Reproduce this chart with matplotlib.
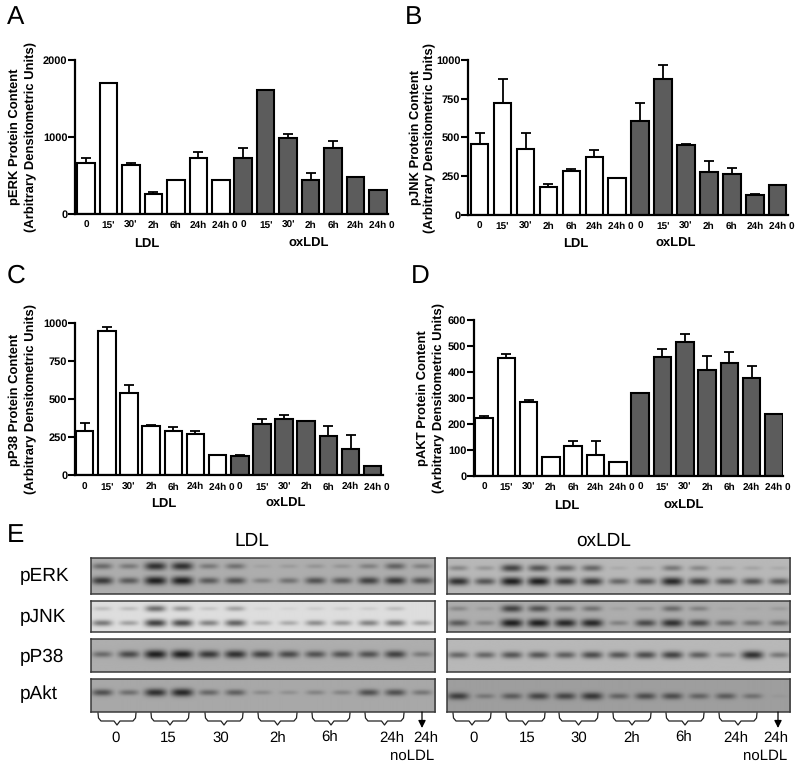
import matplotlib
matplotlib.use('Agg')
import matplotlib.pyplot as plt
import numpy as np

plt.rcParams['font.family'] = ['Liberation Sans', 'DejaVu Sans']
plt.rcParams['text.hinting'] = 'no_hinting'
plt.rcParams['text.hinting_factor'] = 1

W, H = 800, 768

time_labels = ['0', "15'", "30'", '2h', '6h', '24h', '24h 0']
bar_labels = time_labels + time_labels

# values of the bars and the upper error (LDL 7 bars, then oxLDL 7 bars)
perk_vals = [660, 1690, 640, 255, 440, 720, 440, 720, 1600, 980, 440, 860, 480, 310]
perk_errs = [65, 0, 15, 30, 0, 80, 0, 140, 5, 55, 85, 80, 5, 0]
pjnk_vals = [455, 720, 425, 178, 280, 375, 240, 605, 880, 450, 275, 262, 130, 195]
pjnk_errs = [75, 160, 105, 22, 15, 45, 0, 120, 90, 10, 70, 43, 2, 0]
pp38_vals = [288, 945, 540, 325, 290, 270, 135, 125, 335, 368, 358, 255, 170, 62]
pp38_errs = [54, 30, 55, 5, 25, 22, 0, 7, 37, 24, 0, 67, 95, 0]
pakt_vals = [222, 452, 285, 72, 115, 80, 52, 318, 458, 516, 408, 436, 376, 237]
pakt_errs = [8, 18, 5, 0, 18, 53, 0, 0, 32, 30, 52, 42, 48, 0]

# blot band darkness per lane (13 lanes)
left_erk_up = [.55, .45, .9, .9, .45, .5, .15, .2, .25, .25, .4, .6, .4]
left_erk_low = [.85, .65, 1, 1, .65, .7, .4, .5, .7, .65, .8, .85, .7]
left_jnk_up = [.25, .25, .65, .45, .2, .4, .1, .1, .15, .15, .15, .25, 0]
left_jnk_low = [.6, .4, .85, .8, .55, .7, .35, .35, .5, .45, .55, .6, .4]
left_p38 = [.55, .75, 1, 1, .85, .9, .8, .75, .7, .7, .7, .8, .45]
left_akt = [.7, .5, .9, .95, .55, .6, .3, .25, .35, .35, .7, .7, .45]
right_erk_up = [.4, .3, .8, .7, .6, .6, .15, .2, .5, .4, .2, .2, .15]
right_erk_low = [.9, .7, 1, 1, .85, .85, .6, .7, .95, .8, .7, .7, .65]
right_jnk_up = [.35, .2, .8, .7, .5, .5, .15, .25, .55, .4, .1, .1, .2]
right_jnk_low = [.65, .4, 1, 1, .95, .95, .4, .75, .9, .75, .55, .5, .5]
right_p38 = [.6, .6, .7, .7, .65, .75, .7, .75, .8, .65, .45, .9, .5]
right_akt = [.8, .4, .6, .75, .75, .85, .55, .7, .7, .55, .6, .45, .1]

bracket_labels = ['0', '15', '30', '2h', '6h', '24h']

fig = plt.figure(figsize=(W / 100, H / 100), dpi=100)


def px_text(x, y, s, **kw):
    kw.setdefault('ha', 'center')
    kw.setdefault('va', 'center')
    return fig.text(x / W, 1 - y / H, s, **kw)


def bar_panel(axis_x, end_x, y0, ytop, first, last, vals, errs, ymax, yticks,
              title, lab1_x, lab2_x, ldl_x, ox_x, ldl_y, letter, letter_x, letter_y):
    ax = fig.add_axes([axis_x / W, 1 - y0 / H, (end_x - axis_x) / W, (y0 - ytop) / H])
    step = (last - first) / 13
    ax.set_xlim((axis_x - first) / step, (end_x - first) / step)
    ax.set_ylim(0, ymax)
    x = np.arange(14)
    colors = ['white'] * 7 + ['#5c5c5c'] * 7
    ax.bar(x, vals, width=17.5 / step, color=colors, edgecolor='black', linewidth=1.5,
           yerr=[np.zeros(14), errs], capsize=3.6,
           error_kw={'elinewidth': 1.3, 'capthick': 1.3, 'ecolor': 'black'})
    for s in ['top', 'right']:
        ax.spines[s].set_visible(False)
    for s in ['left', 'bottom']:
        ax.spines[s].set_linewidth(1.6)
    ax.set_yticks(yticks)
    ax.tick_params(axis='y', length=5, width=1.5, pad=0.5, labelsize=7.8)
    for t in ax.get_yticklabels():
        t.set_fontweight('bold')
    # the last label of each group runs on with the 0 of the next
    off = 4 / step
    ax.set_xticks(x + np.array([0] * 6 + [off] + [0] * 6 + [off]))
    ax.set_xticklabels(bar_labels)
    ax.tick_params(axis='x', length=0, pad=5, labelsize=7.5)
    for t in ax.get_xticklabels():
        t.set_fontweight('bold')
    cy = (ytop + y0) / 2 + 0.5
    px_text(lab1_x, cy, title, rotation=90, fontsize=9.2, fontweight='bold')
    px_text(lab2_x, cy, '(Arbitrary Densitometric Units)', rotation=90, fontsize=9.2, fontweight='bold')
    px_text(ldl_x, ldl_y, 'LDL', fontsize=9.2, fontweight='bold')
    px_text(ox_x, ldl_y, 'oxLDL', fontsize=9.2, fontweight='bold')
    px_text(letter_x, letter_y, letter, fontsize=18.5, ha='left')


bar_panel(75, 388, 214, 59.5, 86, 378, perk_vals, perk_errs, 2000, [0, 1000, 2000],
          'pERK Protein Content', 15, 31, 147, 309, 244, 'A', 7, 17)
bar_panel(468, 788, 214.7, 60, 479.7, 777.7, pjnk_vals, pjnk_errs, 1000, [0, 250, 500, 750, 1000],
          'pJNK Protein Content', 416, 429.5, 576, 676, 244, 'B', 405, 17)
bar_panel(75, 383, 475.3, 322.7, 84.7, 372.7, pp38_vals, pp38_errs, 1000, [0, 250, 500, 750, 1000],
          'pP38 Protein Content', 14.5, 31, 164, 286, 504, 'C', 7, 276)
bar_panel(474, 783, 475.7, 320, 484, 774, pakt_vals, pakt_errs, 600, [0, 100, 200, 300, 400, 500, 600],
          'pAKT Protein Content', 422.5, 438.5, 567, 684, 505.7, 'D', 411, 276)

px_text(7, 535, 'E', fontsize=18.5, ha='left')
px_text(252, 540.7, 'LDL', fontsize=13.7)
px_text(604, 540.7, 'oxLDL', fontsize=13.7)

rows = [(557.7, 594), (600.7, 632.3), (639, 672.3), (679, 711.7)]
row_names = ['pERK', 'pJNK', 'pP38', 'pAkt']
row_y = [576, 617, 657, 694]
for name, y in zip(row_names, row_y):
    px_text(20, y, name, fontsize=14, ha='left')


def blot(x0, x1, y0, y1, first, last, bands, bg):
    # bands: list of (fraction down the strip, darkness per lane)
    w, h = int(round(x1 - x0)), int(round(y1 - y0))
    xs = np.arange(w) + x0 + 0.5
    ys = (np.arange(h) + 0.5)[:, None]
    dark = np.zeros((h, w))
    step = (last - first) / 12
    for frac, levels in bands:
        for i, lev in enumerate(levels):
            cx = first + i * step
            gx = np.exp(-(np.abs(xs - cx) / (8.5 + 2.5 * lev)) ** 3)[None, :]
            sig = 1.5 + 2.6 * lev
            gy = np.exp(-((ys - frac * h) / sig) ** 2)
            dark = np.maximum(dark, lev ** 1.25 * gx * gy)
    img = bg * (1 - dark) + 0.12 * dark
    ax = fig.add_axes([x0 / W, 1 - y1 / H, (x1 - x0) / W, (y1 - y0) / H])
    ax.imshow(img, cmap='gray', vmin=0, vmax=1, aspect='auto', interpolation='bicubic')
    ax.set_xticks([])
    ax.set_yticks([])
    for s in ax.spines.values():
        s.set_linewidth(1.1)
        s.set_color('#3a3a3a')


left_bands = [[(.25, left_erk_up), (.64, left_erk_low)], [(.27, left_jnk_up), (.72, left_jnk_low)],
              [(.48, left_p38)], [(.41, left_akt)]]
right_bands = [[(.30, right_erk_up), (.66, right_erk_low)], [(.27, right_jnk_up), (.72, right_jnk_low)],
               [(.50, right_p38)], [(.52, right_akt)]]
left_bg = [.68, .87, .68, .66]
right_bg = [.72, .68, .72, .62]
for (y0, y1), b, bg in zip(rows, left_bands, left_bg):
    blot(90.7, 435, y0, y1, 102, 420.7, b, bg)
for (y0, y1), b, bg in zip(rows, right_bands, right_bg):
    blot(446.7, 790, y0, y1, 458, 778, b, bg)

# overlay in pixel coordinates for brackets and arrows
ov = fig.add_axes([0, 0, 1, 1], facecolor='none')
ov.set_xlim(0, W)
ov.set_ylim(H, 0)
ov.axis('off')


def bracket(x0, x1):
    xm = (x0 + x1) / 2
    ov.plot([x0, x0 + 0.5, x0 + 3, xm - 3, xm, xm + 3, x1 - 3, x1 - 0.5, x1],
            [713, 718, 721, 721, 725, 721, 721, 718, 713], color='#222222', lw=0.9)


left_spans = [(98, 136), (151, 189), (205, 243), (258, 297), (312, 350), (365, 404)]
right_spans = [(453, 491), (506, 545), (559, 598), (613, 651), (666, 704), (719, 757)]
left_label_x = [116, 168, 221, 278, 330, 392]
right_label_x = [474, 527, 579, 632, 684, 736]
for (a, b), lx, s in zip(left_spans, left_label_x, bracket_labels):
    bracket(a, b)
    px_text(lx, 738, s, fontsize=10.9)
for (a, b), lx, s in zip(right_spans, right_label_x, bracket_labels):
    bracket(a, b)
    px_text(lx, 738, s, fontsize=10.9)
for ax_x, txt_x, no_x in [(422, 426, 412), (778, 776, 765)]:
    ov.annotate('', xy=(ax_x, 728), xytext=(ax_x, 712),
                arrowprops=dict(arrowstyle='-|>', color='black', lw=0.9, mutation_scale=11, shrinkA=0, shrinkB=0))
    px_text(txt_x, 738, '24h', fontsize=10.9)
    px_text(no_x, 756, 'noLDL', fontsize=10.9)

fig.savefig('out.png', dpi=100)
